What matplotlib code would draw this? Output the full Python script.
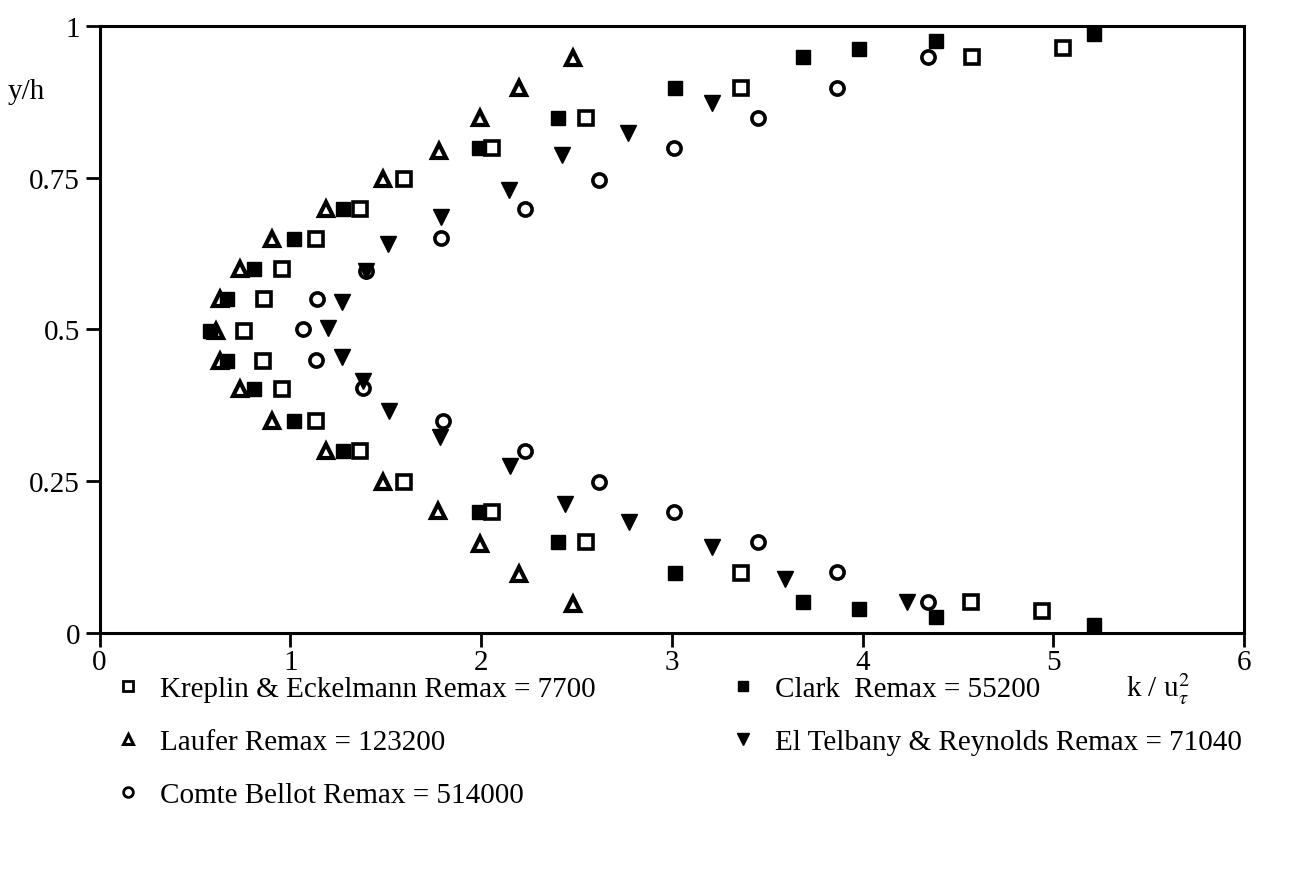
import matplotlib
matplotlib.use("Agg")
import matplotlib.pyplot as plt
from matplotlib.lines import Line2D

plt.rcParams['font.family'] = ['Liberation Serif', 'DejaVu Serif']
plt.rcParams['mathtext.fontset'] = 'stix'

# Kreplin & Eckelmann (open squares)
ke_k = [4.94, 4.57, 3.365, 2.55, 2.057, 1.597, 1.364, 1.133, 0.954, 0.858, 0.756,
        0.861, 0.954, 1.133, 1.364, 1.597, 2.057, 2.55, 3.365, 4.573, 5.05]
ke_y = [0.036, 0.051, 0.099, 0.149, 0.199, 0.248, 0.300, 0.349, 0.402, 0.448, 0.498,
        0.550, 0.600, 0.649, 0.699, 0.748, 0.799, 0.849, 0.899, 0.950, 0.965]

# Clark (filled squares)
cl_k = [5.215, 4.386, 3.983, 3.69, 3.015, 2.405, 1.987, 1.276, 1.022, 0.809, 0.669, 0.581,
        0.669, 0.809, 1.022, 1.276, 1.987, 2.405, 3.015, 3.69, 3.983, 4.386, 5.212]
cl_y = [0.012, 0.025, 0.038, 0.050, 0.098, 0.149, 0.199, 0.300, 0.349, 0.402, 0.448, 0.498,
        0.550, 0.600, 0.649, 0.699, 0.799, 0.849, 0.899, 0.950, 0.963, 0.975, 0.987]

# Laufer (open triangles)
la_k = [2.484, 2.197, 1.994, 1.772, 1.486, 1.185, 0.905, 0.739, 0.629, 0.61,
        0.629, 0.739, 0.905, 1.185, 1.486, 1.78, 1.994, 2.197, 2.484]
la_y = [0.047, 0.097, 0.146, 0.201, 0.248, 0.300, 0.349, 0.402, 0.448, 0.498,
        0.550, 0.600, 0.649, 0.699, 0.748, 0.795, 0.848, 0.898, 0.947]

# Comte Bellot (open circles)
cb_k = [4.345, 3.864, 3.452, 3.011, 2.616, 2.232, 1.798, 1.383, 1.136, 1.066,
        1.141, 1.395, 1.789, 2.232, 2.616, 3.011, 3.452, 3.867, 4.345]
cb_y = [0.050, 0.100, 0.150, 0.199, 0.249, 0.300, 0.349, 0.404, 0.450, 0.500,
        0.550, 0.597, 0.650, 0.699, 0.747, 0.799, 0.849, 0.899, 0.949]

# El Telbany & Reynolds (filled down triangles)
et_k = [4.235, 3.592, 3.213, 2.775, 2.44, 2.152, 1.784, 1.518, 1.38, 1.273,
        1.199, 1.273, 1.395, 1.514, 1.789, 2.144, 2.425, 2.771, 3.213]
et_y = [0.051, 0.088, 0.141, 0.183, 0.212, 0.275, 0.322, 0.366, 0.415, 0.454,
        0.503, 0.546, 0.597, 0.641, 0.685, 0.730, 0.787, 0.824, 0.873]

labels = ['Kreplin & Eckelmann Remax = 7700',
          'Laufer Remax = 123200',
          'Comte Bellot Remax = 514000',
          'Clark  Remax = 55200',
          'El Telbany & Reynolds Remax = 71040']

x_ticks = [0, 1, 2, 3, 4, 5, 6]
y_ticks = [0, 0.25, 0.5, 0.75, 1]
y_ticklabels = ['0', '0.25', '0.5', '0.75', '1']

fs = 21

fig = plt.figure(figsize=(13.13, 8.70), dpi=100)
ax = fig.add_axes([0.0758, 0.2718, 0.8717, 0.6968])

ms = 9.5
ew = 2.6
ax.plot(ke_k, ke_y, ls='none', marker='s', ms=ms, mfc='white', mec='black', mew=ew)
ax.plot(la_k, la_y, ls='none', marker='^', ms=ms + 1, mfc='white', mec='black', mew=ew + 0.4)
ax.plot(cb_k, cb_y, ls='none', marker='o', ms=ms, mfc='white', mec='black', mew=ew)
ax.plot(cl_k, cl_y, ls='none', marker='s', ms=ms + 1, mfc='black', mec='black', mew=1)
ax.plot(et_k, et_y, ls='none', marker='v', ms=ms + 2, mfc='black', mec='black', mew=1)

ax.set_xlim(0, 6)
ax.set_ylim(0, 1)
ax.set_xticks(x_ticks)
ax.set_xticklabels([str(t) for t in x_ticks])
ax.set_yticks(y_ticks)
ax.set_yticklabels(y_ticklabels)
ax.tick_params(direction='out', length=10, width=2, labelsize=fs, pad=4)
ax.tick_params(axis='x', pad=2)
for sp in ax.spines.values():
    sp.set_linewidth(2.2)

fig.text(0.006, 0.894, 'y/h', fontsize=fs, ha='left', va='center')
fig.text(0.882, 0.199, r'k / u$_\tau^2$', fontsize=fs, ha='center', va='baseline')

handles = [
    Line2D([], [], ls='none', marker='s', ms=7, mfc='white', mec='black', mew=2),
    Line2D([], [], ls='none', marker='^', ms=7, mfc='white', mec='black', mew=2.2),
    Line2D([], [], ls='none', marker='o', ms=7, mfc='white', mec='black', mew=2),
    Line2D([], [], ls='none', marker='s', ms=7, mfc='black', mec='black'),
    Line2D([], [], ls='none', marker='v', ms=8, mfc='black', mec='black'),
]
fig.legend(handles, labels, ncol=2, loc='upper left', bbox_to_anchor=(0.0773, 0.236),
           frameon=False, fontsize=fs, handlelength=1.0, handletextpad=0.6,
           columnspacing=4.55, labelspacing=0.92, borderaxespad=0)

fig.savefig('out.png', dpi=100)
